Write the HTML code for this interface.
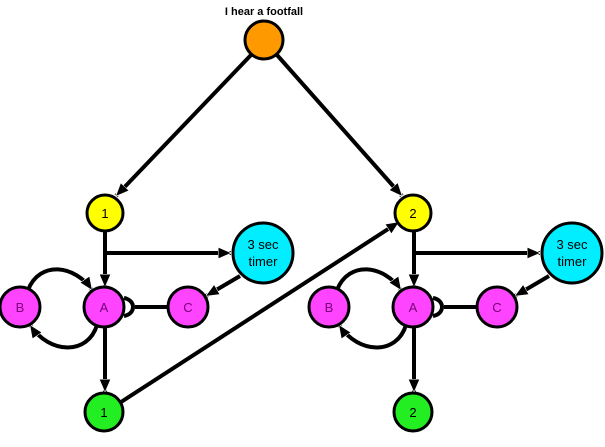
<!DOCTYPE html><html><head><style>body{margin:0;background:#fff}</style></head><body>
<svg width="605" height="442" xmlns="http://www.w3.org/2000/svg" font-family="Liberation Sans, sans-serif">
<defs><marker id="a" markerWidth="8" markerHeight="8" refX="7" refY="4" orient="auto" markerUnits="userSpaceOnUse" viewBox="0 0 8 8"><path d="M0,0 L8,4 L0,8 z" fill="#000"/></marker>
<marker id="b" markerWidth="14" markerHeight="12" refX="13" refY="6" orient="auto" markerUnits="userSpaceOnUse"><path d="M0,0 L14,6 L0,12 z" fill="#000" stroke="#fff" stroke-width="1"/></marker></defs>
<g stroke="#000" stroke-width="4" fill="none">
<line x1="251" y1="55" x2="116" y2="196" marker-end="url(#b)"/>
<line x1="277" y1="55" x2="402" y2="196" marker-end="url(#b)"/>
<line x1="118" y1="404" x2="399" y2="222" marker-end="url(#b)"/>
</g>
<g id="L" stroke="#000" stroke-width="4" fill="none">
<line x1="105" y1="231" x2="105" y2="287" marker-end="url(#b)"/>
<line x1="107" y1="253" x2="231" y2="253" marker-end="url(#b)"/>
<line x1="105" y1="327" x2="105" y2="392" marker-end="url(#b)"/>
<path d="M28,290 C40,260 75,265 92,290" marker-end="url(#b)"/>
<path d="M97,325 C88,355 50,355 30,325" marker-end="url(#b)"/>
<line x1="240" y1="276" x2="206" y2="296" marker-end="url(#b)"/>
<line x1="135" y1="307" x2="168" y2="307"/>
<path d="M124,298 C136,300 136,314 124,316"/>
</g>
<g stroke="#000" stroke-width="3">
<circle cx="264" cy="40" r="19" fill="#ff9900"/>
<circle cx="105" cy="213" r="18" fill="#ffff00"/>
<circle cx="263" cy="253" r="30" fill="#00eeff"/>
<circle cx="20" cy="307" r="20" fill="#ff44ff"/>
<circle cx="104" cy="307" r="20" fill="#ff44ff"/>
<circle cx="188" cy="307" r="20" fill="#ff44ff"/>
<circle cx="104" cy="412" r="19" fill="#22ee22"/>
</g>
<use href="#L" x="309"/>
<g stroke="#000" stroke-width="3">
<circle cx="413" cy="213" r="18" fill="#ffff00"/>
<circle cx="572" cy="253" r="30" fill="#00eeff"/>
<circle cx="329" cy="307" r="20" fill="#ff44ff"/>
<circle cx="413" cy="307" r="20" fill="#ff44ff"/>
<circle cx="497" cy="307" r="20" fill="#ff44ff"/>
<circle cx="413" cy="412" r="19" fill="#22ee22"/>
</g>
<g font-size="13" text-anchor="middle" fill="#000">
<text x="264" y="15" font-size="11" font-weight="bold">I hear a footfall</text>
<text x="105" y="218">1</text><text x="413" y="218">2</text>
<text x="263" y="249">3 sec</text><text x="263" y="266">timer</text>
<text x="572" y="249">3 sec</text><text x="572" y="266">timer</text>
<g fill="#770077"><text x="20" y="312">B</text><text x="104" y="312">A</text><text x="188" y="312">C</text>
<text x="329" y="312">B</text><text x="413" y="312">A</text><text x="497" y="312">C</text></g>
<text x="104" y="417">1</text><text x="413" y="417">2</text>
</g>
</svg></body></html>
